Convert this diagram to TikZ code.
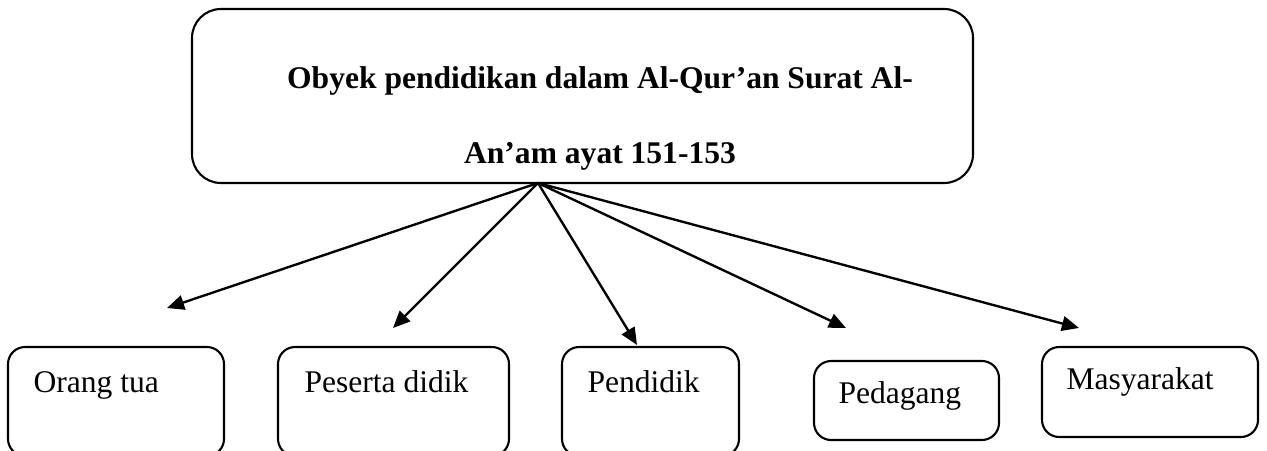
\documentclass[tikz,border=0pt]{standalone}
\usepackage{fontspec}
\setmainfont{Liberation Serif}
\usetikzlibrary{arrows.meta}

\begin{document}
\begin{tikzpicture}[x=0.01337cm, y=-0.01337cm,
  box/.style n args={2}{draw, line width=0.8pt, rounded corners=6.5pt,
    minimum width=#1*0.01337cm, minimum height=#2*0.01337cm, inner sep=0},
  lbl/.style={anchor=base west, inner sep=0, font=\fontsize{12}{14}\selectfont},
  ttl/.style={anchor=base, inner sep=0, font=\bfseries\fontsize{12}{14}\selectfont},
  arr/.style={line width=0.9pt, -{Triangle[length=6.5pt, width=5.6pt]}}]
\useasboundingbox (0,0) rectangle (1267,450);
\clip (0,0) rectangle (1267,450);
% top box
\node[box={781}{174}, rounded corners=11pt] (obyek) at (582.5,96) {};
\node[ttl] (obyek-a) at (600,88) {Obyek pendidikan dalam Al-Qur’an Surat Al-};
\node[ttl] (obyek-b) at (600,163) {An’am ayat 151-153};
\coordinate (hub) at (538,183);
% bottom boxes
\node[box={216}{109}] (ortu)   at (116,401.5)  {};
\node[box={231}{109}] (siswa)  at (393.5,401.5) {};
\node[box={177}{109}] (guru)   at (650.5,401.5) {};
\node[box={185}{79}]  (dagang) at (906.5,400.5) {};
\node[box={216}{90}]  (masy)   at (1150,392)   {};
\node[lbl] (ortu-t)   at (33,392)   {Orang tua};
\node[lbl] (siswa-t)  at (304,392)  {Peserta didik};
\node[lbl] (guru-t)   at (587,392)  {Pendidik};
\node[lbl] (dagang-t) at (838,403)  {Pedagang};
\node[lbl] (masy-t)   at (1066,389) {Masyarakat};
% arrow tips
\coordinate (ortu-tip)   at (167,308);
\coordinate (siswa-tip)  at (393,328);
\coordinate (guru-tip)   at (637,345);
\coordinate (dagang-tip) at (846,328);
\coordinate (masy-tip)   at (1079,328);
\foreach \t in {ortu, siswa, guru, dagang, masy}
  \draw[arr] (hub) -- (\t-tip);
\end{tikzpicture}
\end{document}
